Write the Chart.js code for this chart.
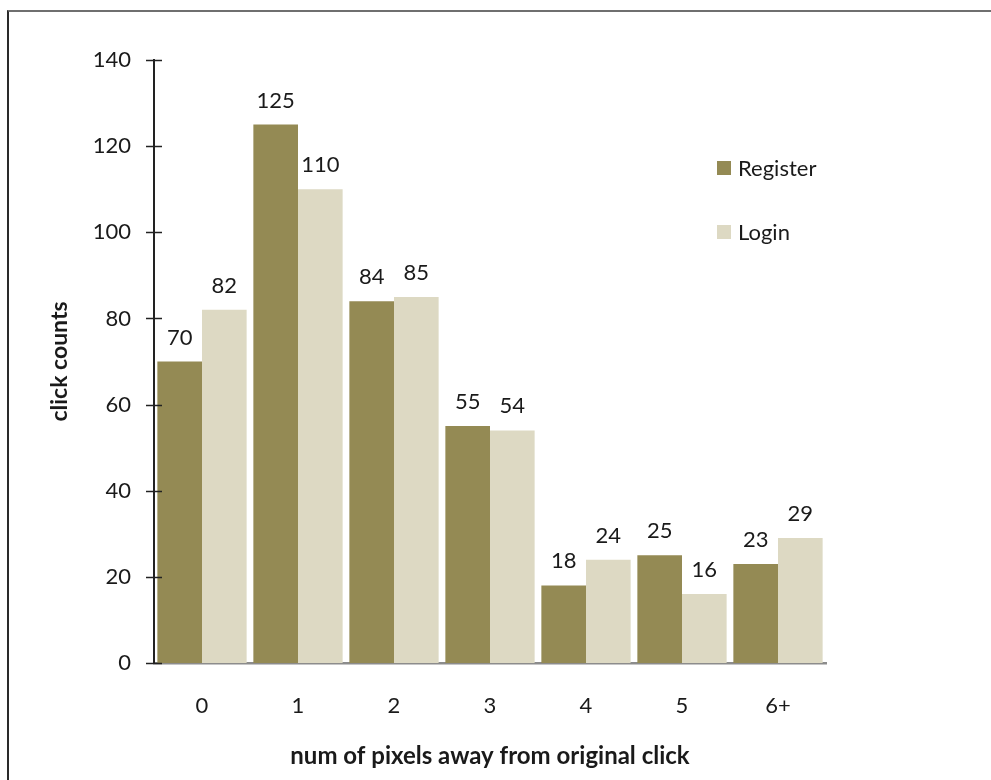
<!DOCTYPE html>
<html>
<head>
<meta charset="utf-8">
<script src="https://cdn.jsdelivr.net/npm/chart.js@4/dist/chart.umd.min.js"></script>
<style>
  html, body { margin: 0; padding: 0; background: #fff; overflow: hidden; }
  #wrap { position: relative; width: 991px; height: 780px; }
  #frame {
    position: absolute; left: 7px; top: 10px; width: 2000px; height: 2000px;
    border-top: 2px solid #6f6f6f; border-left: 2px solid #2a2a2a;
  }
  canvas { position: absolute; left: 0; top: 0; }
</style>
</head>
<body>
<div id="wrap">
  <div id="frame"></div>
  <canvas id="c" width="991" height="780"></canvas>
</div>
<script>
const categories = ['0', '1', '2', '3', '4', '5', '6+'];
const registerCounts = [70, 125, 84, 55, 18, 25, 23];
const loginCounts = [82, 110, 85, 54, 24, 16, 29];
const yTicks = [0, 20, 40, 60, 80, 100, 120, 140];

const FONT = 'Lato, "Open Sans", sans-serif';
const TEXT = '#1a1a1a';

// Small tick marks crossing the y axis line
const crossTicks = {
  id: 'crossTicks',
  afterDatasetsDraw(chart) {
    const y = chart.scales.y;
    const ctx = chart.ctx;
    ctx.save();
    ctx.strokeStyle = '#222';
    ctx.lineWidth = 1.5;
    y.ticks.forEach(t => {
      const py = Math.round(y.getPixelForValue(t.value)) + 0.5;
      ctx.beginPath();
      ctx.moveTo(y.right - 8, py);
      ctx.lineTo(y.right + 8, py);
      ctx.stroke();
    });
    ctx.restore();
  }
};

// Value labels above each bar
const valueLabels = {
  id: 'valueLabels',
  afterDatasetsDraw(chart) {
    const ctx = chart.ctx;
    ctx.save();
    ctx.font = '22px ' + FONT;
    ctx.fillStyle = TEXT;
    ctx.textAlign = 'center';
    ctx.textBaseline = 'alphabetic';
    chart.data.datasets.forEach((ds, di) => {
      chart.getDatasetMeta(di).data.forEach((bar, i) => {
        ctx.fillText(String(ds.data[i]), bar.x, bar.y - 17);
      });
    });
    ctx.restore();
  }
};

// Legend drawn inside the plot area on the right
const sideLegend = {
  id: 'sideLegend',
  afterDraw(chart) {
    const ctx = chart.ctx;
    const x0 = chart.chartArea.right - 109;
    const y0 = 168;
    ctx.save();
    ctx.font = '22px ' + FONT;
    ctx.textBaseline = 'middle';
    chart.data.datasets.forEach((ds, i) => {
      const cy = y0 + i * 64;
      ctx.fillStyle = ds.backgroundColor;
      ctx.fillRect(x0, cy - 7, 14, 14);
      ctx.fillStyle = TEXT;
      ctx.fillText(ds.label, x0 + 21, cy + 1);
    });
    ctx.restore();
  }
};

new Chart(document.getElementById('c'), {
  type: 'bar',
  data: {
    labels: categories,
    datasets: [
      { label: 'Register', data: registerCounts, backgroundColor: '#948A54' },
      { label: 'Login', data: loginCounts, backgroundColor: '#DDD9C3' }
    ]
  },
  options: {
    responsive: false,
    animation: false,
    devicePixelRatio: 1,
    layout: { padding: { left: 0, top: 60, right: 165, bottom: 0 } },
    plugins: { legend: { display: false }, tooltip: { enabled: false } },
    datasets: { bar: { categoryPercentage: 0.93, barPercentage: 1.0 } },
    scales: {
      x: {
        grid: { display: false, drawTicks: false },
        border: { display: true, color: '#8c8c8c', width: 2.5 },
        ticks: { color: TEXT, font: { family: FONT, size: 22 }, padding: 30 },
        title: {
          display: true, text: 'num of pixels away from original click',
          color: TEXT, font: { family: FONT, size: 24, weight: 'bold' },
          padding: { top: 0, bottom: 9 }
        },
        afterFit(s) { s.height = 117; }
      },
      y: {
        min: 0, max: 140,
        afterBuildTicks(s) { s.ticks = yTicks.map(v => ({ value: v })); },
        grid: { display: false, drawTicks: false },
        border: { display: true, color: '#222', width: 2 },
        ticks: { color: TEXT, font: { family: FONT, size: 22 }, padding: 23 },
        title: {
          display: true, text: 'click counts',
          color: TEXT, font: { family: FONT, size: 23, weight: 'bold' },
          padding: { top: 46, bottom: 0 }
        },
        afterFit(s) { s.width = 154; }
      }
    }
  },
  plugins: [crossTicks, valueLabels, sideLegend]
});
</script>
</body>
</html>
